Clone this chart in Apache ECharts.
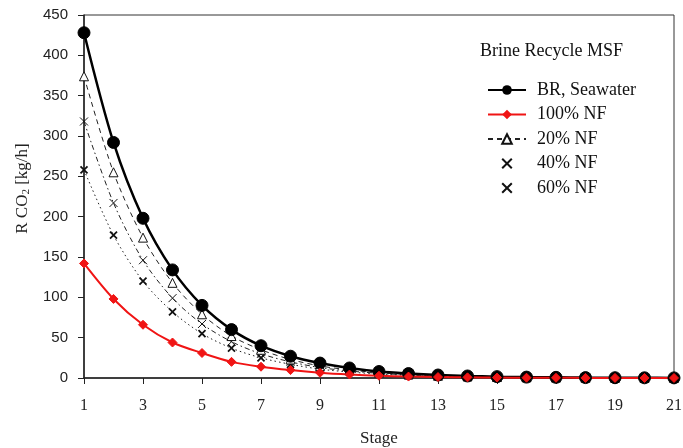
<!DOCTYPE html>
<html><head><meta charset="utf-8">
<script src="https://cdn.jsdelivr.net/npm/echarts@6/dist/echarts.min.js"></script>
<style>html,body{margin:0;padding:0;background:#fff}#c{width:683px;height:448px}</style>
</head><body><div id="c"></div>
<script>
var stages = ['1','2','3','4','5','6','7','8','9','10','11','12','13','14','15','16','17','18','19','20','21'];
var brSeawater = [428, 292, 198, 134, 90, 60, 40, 27, 18.5, 12.4, 8, 5.5, 3.7, 2.5, 1.7, 1.1, 0.8, 0.5, 0.35, 0.25, 0.15];
var nf100 = [142, 98, 66, 44, 31, 20, 14, 9.8, 6.5, 4.3, 2.8, 1.8, 1.2, 0.8, 0.5, 0.35, 0.25, 0.15, 0.1, 0.07, 0.05];
var nf20 = [374, 255, 174, 118, 79, 52, 35, 23, 15, 10, 6.5, 4.3, 2.8, 1.9, 1.2, 0.8, 0.55, 0.35, 0.25, 0.15, 0.1];
var nf40 = [318, 217, 146, 99, 67, 45, 30, 20, 13, 8.7, 5.8, 3.8, 2.5, 1.7, 1.1, 0.75, 0.5, 0.33, 0.22, 0.15, 0.1];
var nf60 = [258, 177, 120, 82, 55, 37, 25, 17, 11, 7.4, 5, 3.3, 2.2, 1.5, 1, 0.65, 0.45, 0.3, 0.2, 0.13, 0.09];
var legendTitle = 'Brine Recycle MSF';

var serif = '"Liberation Serif", "DejaVu Serif", serif';
var sans = '"Liberation Sans", Arial, sans-serif';
var crossPath = 'path://M0,0 L10,10 M10,0 L0,10';
var chart = echarts.init(document.getElementById('c'));
chart.setOption({
  animation: false,
  textStyle: {fontFamily: serif},
  title: {text: legendTitle, left: 475, top: 37, textStyle: {fontFamily: serif, fontSize: 18, fontWeight: 'normal', color: '#111'}},
  grid: {left: 84, right: 9, top: 15, bottom: 70, show: true, borderColor: '#333', borderWidth: 1, outerBoundsMode: 'none', containLabel: false},
  legend: {
    orient: 'vertical', left: 482, top: 76, itemWidth: 38, itemHeight: 12, itemGap: 6.5,
    textStyle: {fontFamily: serif, fontSize: 18, color: '#111', padding: [0, 0, 0, 6]},
    data: [
      {name: 'BR, Seawater'},
      {name: '100% NF'},
      {name: '20% NF'},
      {name: '40% NF', lineStyle: {opacity: 0}},
      {name: '60% NF', lineStyle: {opacity: 0}}
    ]
  },
  xAxis: {
    type: 'category', data: stages, boundaryGap: false,
    name: 'Stage', nameLocation: 'middle', nameGap: 52,
    nameTextStyle: {fontFamily: serif, fontSize: 17, color: '#222'},
    axisLine: {lineStyle: {color: '#222', width: 1.5}},
    axisTick: {interval: 1, length: 6, lineStyle: {color: '#222'}},
    axisLabel: {interval: 1, fontFamily: serif, fontSize: 16, color: '#222', margin: 20},
    splitLine: {show: false}
  },
  yAxis: {
    type: 'value', min: 0, max: 450, interval: 50,
    name: '{a|R CO}{s|2}{a| [kg/h]}', nameLocation: 'middle', nameGap: 52,
    nameTextStyle: {padding: [0, 0, 0, 16], rich: {a: {fontFamily: serif, fontSize: 17, color: '#222'}, s: {fontFamily: serif, fontSize: 11, color: '#222', padding: [8, 0, 0, 0]}}},
    axisLine: {show: true, lineStyle: {color: '#222', width: 1.5}},
    axisTick: {show: true, length: 6, lineStyle: {color: '#222'}},
    axisLabel: {fontFamily: sans, fontSize: 15, color: '#222', margin: 16},
    splitLine: {show: false}
  },
  series: [
    {name: '60% NF', type: 'line', data: nf60, smooth: 0.3, symbol: crossPath, symbolSize: 7,
      lineStyle: {color: '#222', width: 1, type: [1.5, 3]}, itemStyle: {color: 'transparent', borderColor: '#111', borderWidth: 1.8}},
    {name: '40% NF', type: 'line', data: nf40, smooth: 0.3, symbol: crossPath, symbolSize: 8,
      lineStyle: {color: '#222', width: 1, type: [5, 3, 1.5, 3]}, itemStyle: {color: 'transparent', borderColor: '#111', borderWidth: 1}},
    {name: '20% NF', type: 'line', data: nf20, smooth: 0.3, symbol: 'triangle', symbolSize: 9,
      lineStyle: {color: '#222', width: 1, type: [5, 4]}, itemStyle: {color: '#fff', borderColor: '#111', borderWidth: 1}},
    {name: 'BR, Seawater', type: 'line', data: brSeawater, smooth: 0.3, symbol: 'circle', symbolSize: 12,
      lineStyle: {color: '#000', width: 2.5}, itemStyle: {color: '#000', borderColor: '#000'}},
    {name: '100% NF', type: 'line', data: nf100, smooth: 0.3, symbol: 'diamond', symbolSize: 9,
      lineStyle: {color: '#f01414', width: 2}, itemStyle: {color: '#f01414', borderColor: '#f01414'}}
  ]
});
</script></body></html>
